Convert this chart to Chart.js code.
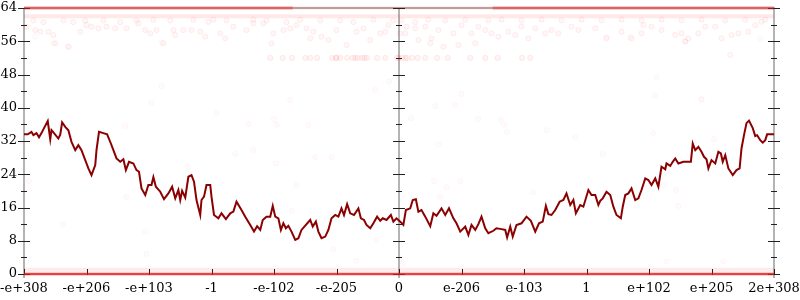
<!DOCTYPE html>
<html>
<head>
<meta charset="utf-8">
<script src="https://cdn.jsdelivr.net/npm/chart.js@4.4.1/dist/chart.umd.min.js"></script>
<style>
  html, body { margin: 0; padding: 0; background: #fff; }
  #wrap { width: 800px; height: 300px; }
</style>
</head>
<body>
<div id="wrap"><canvas id="chart" width="800" height="300"></canvas></div>
<script>
// x axis: 13 evenly spaced ticks (index 0..12), labels as in the picture
const xTickLabels = ['-e+308', '-e+206', '-e+103', '-1', '-e-102', '-e-205', '0',
                     'e-206', 'e-103', '1', 'e+102', 'e+205', '2e+308'];
const axisLines = [0, 6, 12];
const yMax = 64;

// dark red running curve
const curveX = [0.00,0.06,0.12,0.15,0.20,0.24,0.28,0.31,0.38,0.42,0.44,0.48,0.55,0.58,0.61,0.66,0.71,0.76,0.82,0.87,
  0.92,0.98,1.03,1.08,1.14,1.16,1.20,1.27,1.33,1.39,1.43,1.48,1.54,1.59,1.63,1.68,1.75,1.80,1.84,1.88,
  1.94,1.99,2.04,2.07,2.11,2.18,2.24,2.31,2.37,2.42,2.47,2.50,2.53,2.58,2.63,2.68,2.72,2.76,2.82,2.84,
  2.88,2.92,2.98,3.00,3.04,3.11,3.16,3.23,3.30,3.35,3.40,3.48,3.54,3.62,3.68,3.73,3.78,3.82,3.88,3.94,
  3.98,4.02,4.07,4.11,4.15,4.19,4.23,4.28,4.34,4.39,4.44,4.51,4.58,4.62,4.67,4.71,4.76,4.82,4.87,4.92,
  4.98,5.03,5.08,5.12,5.17,5.22,5.28,5.35,5.39,5.44,5.48,5.54,5.59,5.65,5.70,5.74,5.80,5.87,5.91,5.96,
  6.02,6.07,6.11,6.18,6.22,6.27,6.31,6.36,6.42,6.50,6.55,6.60,6.68,6.74,6.80,6.87,6.92,6.98,7.06,7.11,
  7.16,7.22,7.27,7.32,7.38,7.43,7.51,7.56,7.64,7.70,7.73,7.78,7.82,7.88,7.96,8.04,8.11,8.18,8.24,8.30,
  8.35,8.39,8.44,8.50,8.57,8.63,8.68,8.74,8.79,8.83,8.90,8.95,9.03,9.08,9.14,9.19,9.22,9.26,9.32,9.38,
  9.43,9.48,9.55,9.58,9.62,9.67,9.72,9.78,9.83,9.88,9.94,9.99,10.04,10.10,10.15,10.20,10.26,10.28,10.34,10.38,
  10.42,10.47,10.55,10.63,10.67,10.70,10.74,10.79,10.84,10.88,10.92,10.95,11.00,11.06,11.11,11.15,11.18,11.22,11.27,11.34,
  11.40,11.45,11.48,11.52,11.56,11.60,11.66,11.70,11.73,11.78,11.82,11.86,11.89,11.94,12.00];
const curveY = [33.6,33.6,34.2,33.4,33.9,32.9,33.9,34.8,36.8,32.4,34.6,33.9,32.6,33.5,36.5,35.4,34.6,31.8,29.8,31.0,
  29.8,27.4,25.4,23.8,26.2,29.8,34.2,33.9,33.6,31.4,29.8,27.8,27.0,27.6,25.0,27.0,26.6,25.0,24.6,20.6,
  19.0,21.4,21.4,23.3,21.0,19.8,18.0,19.4,21.0,18.2,20.2,17.8,20.0,18.4,23.4,23.8,22.2,17.8,14.2,17.8,
  18.6,21.4,21.4,18.6,14.2,13.4,14.6,13.2,14.6,15.0,17.4,15.4,13.8,11.8,10.2,11.5,10.6,13.0,13.8,13.8,
  16.4,13.8,13.4,10.6,12.2,11.0,11.6,10.2,8.2,8.6,10.6,11.8,13.0,11.4,12.6,10.2,8.6,9.0,10.6,13.4,
  14.2,13.8,15.8,14.2,16.8,14.6,14.2,15.8,13.4,13.0,11.8,11.0,12.2,13.8,12.8,13.4,13.0,14.2,12.6,13.4,
  12.6,11.8,15.4,15.8,17.8,18.0,15.0,15.4,13.8,11.5,14.6,14.0,15.8,14.2,15.8,13.4,12.2,10.2,11.4,9.4,
  11.8,10.6,12.0,13.8,11.0,9.8,10.4,11.0,10.8,10.6,8.8,11.4,9.0,11.8,12.2,13.8,12.8,10.2,12.2,12.6,
  16.4,14.4,14.2,15.4,17.4,17.8,19.4,16.6,17.8,14.6,16.6,16.2,20.2,19.0,19.0,16.6,17.6,18.2,19.8,19.0,
  16.2,14.2,13.4,16.2,19.0,19.4,20.6,17.8,18.2,20.2,23.0,22.6,21.4,23.0,21.0,25.8,25.2,26.6,26.0,27.0,
  27.8,26.6,27.0,27.0,27.0,31.4,29.8,30.6,29.4,28.2,27.6,25.4,27.4,26.6,29.4,29.0,27.0,28.6,25.4,23.8,
  25.0,25.4,30.2,33.4,36.3,36.9,35.1,33.2,33.4,32.2,31.6,32.2,33.6,33.6,33.6];

// dense rows of points (drawn as faint strokes)
const rowTopLeft = [0, 4.3];
const rowTopMid = [4.3, 7.5];
const rowTopRight = [7.5, 12];
const rowFull = [0, 12];
const rowTopLevel = 64;
const rowHighLevel = 62;
const rowZeroLevel = 0;
const rowOneLevel = 1;

// row of points at 52
const band52X = [3.94,4.14,4.29,4.50,4.58,4.69,4.93,4.99,5.06,5.17,5.26,5.34,5.41,5.49,5.65,5.78,5.97,6.05,
  6.13,6.21,6.30,6.42,6.61,6.78,7.14,7.38,7.58,7.97,8.10,5.00,5.30,5.45,6.00,6.10];
const band52Level = 52;

// scattered points near the top
const upperX = [0.04,0.18,0.26,0.39,0.47,0.50,0.71,0.90,1.00,1.08,1.19,1.32,1.46,1.64,1.83,1.94,2.02,2.12,2.23,2.39,
  2.42,2.55,2.68,2.82,2.90,2.95,3.14,3.22,3.35,3.56,3.67,3.83,3.99,3.96,4.15,4.26,4.36,4.52,4.58,4.63,
  4.76,4.87,5.00,5.16,5.32,5.43,5.54,5.70,5.78,5.83,6.02,6.12,
  0.15,0.31,0.63,0.79,0.98,1.27,1.54,1.80,2.07,2.34,2.71,3.03,3.24,3.67,3.88,4.20,4.42,4.74,5.06,5.27,5.59,5.91,
  6.10,6.26,6.31,6.52,6.50,6.71,6.95,7.22,6.42,6.63,6.87,7.00,7.16,7.27,7.38,7.48,7.59,7.75,7.86,7.96,
  8.07,8.18,8.34,8.44,8.55,8.76,8.87,9.14,9.32,9.56,9.72,9.88,9.91,10.04,10.20,10.42,10.52,10.58,10.63,10.79,
  10.90,11.06,11.16,11.32,11.43,11.59,11.70,11.80,
  6.04,6.26,6.47,6.74,7.06,7.43,7.64,7.96,8.28,8.60,8.92,9.24,9.56,9.88,10.20,10.52,10.84,11.22,11.54,11.86];
const upperY = [59.5,58.7,58.3,58.3,57.5,55.5,54.7,58.3,59.9,59.5,59.1,59.5,59.1,59.1,60.3,58.7,57.9,58.7,55.5,58.7,
  57.5,58.7,58.7,58.3,57.1,60.7,57.9,56.7,59.5,58.7,60.3,60.3,57.9,55.5,58.7,59.1,59.9,59.1,56.7,58.3,
  57.1,56.3,58.7,55.1,58.3,59.1,56.3,57.9,58.3,59.9,57.9,59.5,
  61.0,60.6,61.0,60.6,61.0,61.0,60.6,61.0,61.2,61.0,61.2,61.2,61.0,61.2,61.0,60.6,61.2,61.0,61.0,60.6,61.2,61.0,
  57.9,59.1,56.3,56.7,55.5,54.7,55.1,55.5,59.5,58.7,57.9,59.9,57.9,59.5,58.7,57.9,57.1,58.3,57.5,59.5,
  56.7,59.1,57.9,58.7,57.9,59.5,58.7,59.1,56.7,58.3,56.7,57.9,59.9,59.5,58.7,57.5,57.9,56.0,56.7,57.9,
  59.5,59.5,56.7,57.5,57.9,58.3,59.9,60.7,
  61.0,60.6,61.2,61.0,61.2,61.0,61.2,61.0,61.2,61.0,61.2,61.0,61.2,61.0,61.2,61.0,61.2,61.0,61.2,61.2];

// stray faint points across the middle
const strayX = [3.08,3.59,4.00,4.04,4.55,3.38,3.67,4.03,4.66,4.92,4.36,4.28,5.64,4.26,6.19,6.58,6.90,7.27,7.63,7.68,
  7.73,8.36,8.82,6.63,6.56,6.98,6.76,6.66,8.15,2.04,1.62,1.48,2.63,0.08,1.64,10.84,10.07,11.04,9.26,10.23,
  10.43,10.47,0.63,1.94,1.96,4.95,5.32,6.07,10.28,11.19,0.47,0.71,2.20,2.20,0.18,9.32,9.70,10.12,10.10,11.30,
  10.58,10.84,11.78,5.62,5.84,7.00,11.30];
const strayY = [38.7,36.1,37.2,35.9,35.9,28.9,29.8,26.6,28.2,28.1,21.4,15.2,8.2,41.9,37.5,40.4,40.7,37.3,37.1,35.9,
  34.2,34.6,32.9,31.2,22.4,22.4,20.9,18.6,19.7,41.2,35.6,29.8,25.8,22.4,18.5,41.9,33.9,32.5,28.9,21.4,
  20.2,16.4,12.0,10.2,4.8,5.9,3.2,2.6,3.0,3.0,55.5,54.7,55.7,45.2,57.1,57.0,57.0,47.3,42.9,52.7,
  55.9,42.1,56.5,44.4,46.3,43.3,52.7];

function pairs(xs, ys) {
  return xs.map((x, i) => ({ x: x, y: ys[i] }));
}

function level(xs, v) {
  return xs.map(x => ({ x: x, y: v }));
}

function rowDataset(span, lvl, color, width) {
  return {
    type: 'line',
    data: level(span, lvl),
    borderColor: color,
    borderWidth: width,
    pointRadius: 0,
    showLine: true,
    clip: false,
    order: 5
  };
}

function pointDataset(data, fill, edge) {
  return {
    type: 'scatter',
    data: data,
    pointRadius: 2.6,
    pointHoverRadius: 2.6,
    borderWidth: 1,
    backgroundColor: fill,
    borderColor: edge,
    clip: false,
    order: 4
  };
}

// axes frame with ticks crossing the lines, like the reference
const axisFrame = {
  id: 'axisFrame',
  beforeDatasetsDraw(chart) {
    const ctx = chart.ctx;
    const area = chart.chartArea;
    const x = chart.scales.x;
    const y = chart.scales.y;
    const top = Math.round(y.getPixelForValue(yMax));
    const bottom = Math.round(y.getPixelForValue(0));

    ctx.save();
    ctx.strokeStyle = '#b4b4b4';
    ctx.lineWidth = 2;
    ctx.beginPath();
    ctx.moveTo(area.left, top);
    ctx.lineTo(area.right + 1, top);
    ctx.stroke();

    axisLines.forEach(v => {
      const px = Math.round(x.getPixelForValue(v));
      ctx.beginPath();
      ctx.moveTo(px, top);
      ctx.lineTo(px, bottom + 4);
      ctx.stroke();
    });

    ctx.strokeStyle = '#222';
    ctx.lineWidth = 1;
    axisLines.forEach(v => {
      const px = Math.round(x.getPixelForValue(v));
      for (let t = 0; t <= yMax; t += 4) {
        const py = Math.round(y.getPixelForValue(t)) + 0.5;
        const len = t % 8 === 0 ? 6 : 3;
        ctx.beginPath();
        ctx.moveTo(px - len, py);
        ctx.lineTo(px + len, py);
        ctx.stroke();
      }
    });

    xTickLabels.forEach((lbl, i) => {
      const px = Math.round(x.getPixelForValue(i)) + 0.5;
      ctx.beginPath();
      ctx.moveTo(px, bottom + 1);
      ctx.lineTo(px, bottom - 5);
      ctx.stroke();
    });
    ctx.restore();
  }
};

const ctx = document.getElementById('chart').getContext('2d');

new Chart(ctx, {
  type: 'scatter',
  data: {
    datasets: [
      rowDataset(rowFull, rowOneLevel, 'rgba(255,0,0,0.08)', 4),
      rowDataset(rowFull, rowZeroLevel, 'rgba(225,20,20,0.8)', 2.5),
      rowDataset(rowTopLeft, rowTopLevel, 'rgba(240,30,30,0.5)', 3),
      rowDataset(rowTopMid, rowTopLevel, 'rgba(255,0,0,0.12)', 3),
      rowDataset(rowTopRight, rowTopLevel, 'rgba(240,30,30,0.5)', 3),
      rowDataset(rowFull, rowHighLevel, 'rgba(255,0,0,0.09)', 4),
      pointDataset(level(band52X, band52Level), 'rgba(255,0,0,0.04)', 'rgba(255,0,0,0.08)'),
      pointDataset(pairs(upperX, upperY), 'rgba(255,0,0,0.03)', 'rgba(255,0,0,0.065)'),
      pointDataset(pairs(strayX, strayY), 'rgba(255,0,0,0.015)', 'rgba(255,0,0,0.035)'),
      {
        type: 'line',
        data: pairs(curveX, curveY),
        borderColor: '#8b0000',
        borderWidth: 2,
        pointRadius: 0,
        showLine: true,
        tension: 0,
        order: 1
      }
    ]
  },
  options: {
    responsive: false,
    animation: false,
    events: [],
    layout: { padding: { top: 8, right: 26, left: 0, bottom: 0 } },
    plugins: {
      legend: { display: false },
      tooltip: { enabled: false }
    },
    scales: {
      x: {
        type: 'linear',
        min: 0,
        max: 12,
        grid: { display: false, drawTicks: false },
        border: { display: false },
        ticks: {
          stepSize: 1,
          autoSkip: false,
          maxRotation: 0,
          padding: 7,
          color: '#000',
          font: { family: 'DejaVu Serif', size: 13 },
          callback: v => xTickLabels[v]
        },
        afterFit: s => { s.height = 26; s.paddingLeft = 0; s.paddingRight = 0; }
      },
      y: {
        min: 0,
        max: yMax,
        grid: { display: false, drawTicks: false },
        border: { display: false },
        ticks: {
          stepSize: 8,
          padding: 7,
          color: '#000',
          font: { family: 'DejaVu Serif', size: 13 }
        },
        afterFit: s => { s.width = 24; s.paddingTop = 0; s.paddingBottom = 0; }
      }
    }
  },
  plugins: [axisFrame]
});
</script>
</body>
</html>
